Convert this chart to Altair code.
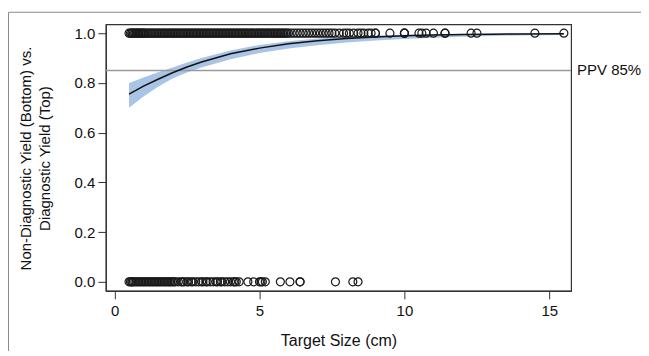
import altair as alt
import pandas as pd

# Observed target sizes (cm) with diagnostic yield (top row, y=1)
top_x = [0.5, 0.55, 0.6, 0.6, 0.65, 0.7, 0.7, 0.75, 0.8, 0.8, 0.85, 0.9, 0.9, 0.95,
         1.0, 1.0, 1.05, 1.1, 1.15, 1.2, 1.25, 1.3, 1.35, 1.4, 1.45,
         1.5, 1.55, 1.6, 1.65, 1.7, 1.75, 1.8, 1.85, 1.9, 1.95,
         2.0, 2.05, 2.1, 2.15, 2.2, 2.25, 2.3, 2.35, 2.4, 2.45,
         2.5, 2.55, 2.6, 2.65, 2.7, 2.75, 2.8, 2.85, 2.9, 2.95,
         3.0, 3.05, 3.1, 3.15, 3.2, 3.25, 3.3, 3.35, 3.4, 3.45,
         3.5, 3.55, 3.6, 3.65, 3.7, 3.75, 3.8, 3.85, 3.9, 3.95,
         4.0, 4.05, 4.1, 4.15, 4.2, 4.25, 4.3, 4.35, 4.4, 4.45,
         4.5, 4.55, 4.6, 4.65, 4.7, 4.75, 4.8, 4.85, 4.9, 4.95,
         5.0, 5.05, 5.1, 5.15, 5.2, 5.25, 5.3, 5.35, 5.4, 5.45,
         5.5, 5.55, 5.6, 5.65, 5.7, 5.75, 5.8, 5.85, 5.9, 5.95,
         6.0, 6.1, 6.2, 6.3, 6.4, 6.5, 6.6, 6.7, 6.8, 6.9,
         7.0, 7.1, 7.2, 7.3, 7.4, 7.5, 7.6, 7.75, 7.9, 8.0, 8.1, 8.25, 8.4, 8.5, 8.6,
         8.75, 8.85, 9.0, 9.0, 9.5, 10.0, 10.0, 10.0, 10.5, 10.6, 10.75, 11.0, 11.4, 11.4,
         12.3, 12.5, 14.5, 15.5]
# Observed target sizes (cm) with non-diagnostic yield (bottom row, y=0)
bottom_x = [0.5, 0.55, 0.6, 0.6, 0.65, 0.7, 0.75, 0.8, 0.85, 0.9, 0.95, 1.0, 1.05, 1.1, 1.15,
            1.2, 1.25, 1.3, 1.35, 1.4, 1.45, 1.5, 1.55, 1.6, 1.65, 1.7, 1.75, 1.8, 1.85, 1.9,
            1.95, 2.0, 2.05, 2.1, 2.2, 2.3, 2.35, 2.4, 2.5, 2.55, 2.65, 2.7, 2.8, 2.9, 3.0,
            3.05, 3.15, 3.2, 3.3, 3.4, 3.5, 3.55, 3.65, 3.7, 3.8, 3.9, 4.0, 4.1, 4.15, 4.2,
            4.3, 4.6, 4.8, 5.0, 5.05, 5.1, 5.2, 5.72, 6.05, 6.4, 6.4, 7.62, 8.22, 8.4]

# Fitted logistic curve and its confidence band
fit_x = [0.5, 1, 1.5, 2, 2.5, 3, 4, 5, 6, 7, 8, 9, 10, 11, 12, 13, 14, 15.5]
fit_p = [0.755, 0.787, 0.815, 0.841, 0.864, 0.884, 0.917, 0.940, 0.958, 0.970, 0.979,
         0.985, 0.990, 0.993, 0.995, 0.996, 0.997, 0.998]
fit_lo = [0.700, 0.745, 0.785, 0.818, 0.842, 0.862, 0.895, 0.920, 0.938, 0.952, 0.963,
          0.971, 0.977, 0.982, 0.986, 0.989, 0.991, 0.993]
fit_hi = [0.800, 0.822, 0.843, 0.862, 0.882, 0.900, 0.930, 0.953, 0.968, 0.979, 0.986,
          0.991, 0.994, 0.996, 0.997, 0.998, 0.999, 0.999]

ppv_value = 0.85
ppv_label = "PPV 85%"

points = pd.DataFrame({
    "size": top_x + bottom_x,
    "yield": [1.0] * len(top_x) + [0.0] * len(bottom_x),
})
fit = pd.DataFrame({"size": fit_x, "p": fit_p, "lo": fit_lo, "hi": fit_hi})

W, H = 466, 267
FONT = "Liberation Sans"
FS = 15

xscale = alt.Scale(domain=[-0.3, 15.75], nice=False, zero=False)
yscale = alt.Scale(domain=[-0.036, 1.036], nice=False, zero=False)

xaxis = alt.Axis(values=[0, 5, 10, 15], title="Target Size (cm)", grid=False,
                 tickSize=8, labelPadding=5, labelFontSize=FS, titleFontSize=FS + 1,
                 titleY=50, titleBaseline="middle")
yaxis = alt.Axis(values=[0, 0.2, 0.4, 0.6, 0.8, 1.0], format=".1f",
                 title=["Non-Diagnostic Yield (Bottom) vs.", "Diagnostic Yield (Top)"],
                 grid=False, tickSize=8, labelPadding=3, labelFontSize=FS, titleFontSize=FS,
                 titleLineHeight=19, titleX=-72, titleY=134, titleBaseline="bottom")

band = alt.Chart(fit).mark_area(color="#a9c4e6", opacity=1).encode(
    x=alt.X("size:Q", scale=xscale, axis=xaxis),
    y=alt.Y("lo:Q", scale=yscale, axis=yaxis),
    y2="hi:Q",
)
line = alt.Chart(fit).mark_line(color="#111111", strokeWidth=1.5).encode(
    x=alt.X("size:Q", scale=xscale),
    y=alt.Y("p:Q", scale=yscale),
)
ppv = pd.DataFrame({"y": [ppv_value], "label": [ppv_label]})
rule = alt.Chart(ppv).mark_rule(color="#9a9a9a", strokeWidth=1.5).encode(
    y=alt.Y("y:Q", scale=yscale),
)
ppv_text = alt.Chart(ppv).mark_text(align="left", baseline="middle", fontSize=FS,
                                    font=FONT, color="#111111").encode(
    x=alt.value(W + 6),
    y=alt.Y("y:Q", scale=yscale),
    text="label:N",
)
pts = alt.Chart(points).mark_point(shape="circle", filled=False, color="#1a1a1a",
                                   size=64, strokeWidth=1.2, opacity=1).encode(
    x=alt.X("size:Q", scale=xscale),
    y=alt.Y("yield:Q", scale=yscale),
)
one = pd.DataFrame({"a": [0]})
outer_top = alt.Chart(one).mark_rule(color="#8a8a8a", strokeWidth=1).encode(
    x=alt.value(-97.5), x2=alt.value(W + 80), y=alt.value(-12))
outer_left = alt.Chart(one).mark_rule(color="#8a8a8a", strokeWidth=1).encode(
    x=alt.value(-97.5), y=alt.value(-12), y2=alt.value(H + 80))

chart = alt.layer(outer_top, outer_left, band, rule, line, pts, ppv_text).properties(
    width=W, height=H,
    autosize=alt.AutoSizeParams(type="none"),
    padding={"left": 98, "top": 16, "right": 70, "bottom": 60},
).configure(font=FONT).configure_view(stroke="#333333", strokeWidth=1.2).configure_axis(
    domainColor="#333333", tickColor="#333333", labelColor="#111111", titleColor="#111111",
    labelFont=FONT, titleFont=FONT, titleFontWeight="normal", domainWidth=1.2,
)

chart.save("out.html", embed_options={"renderer": "svg", "actions": False})
